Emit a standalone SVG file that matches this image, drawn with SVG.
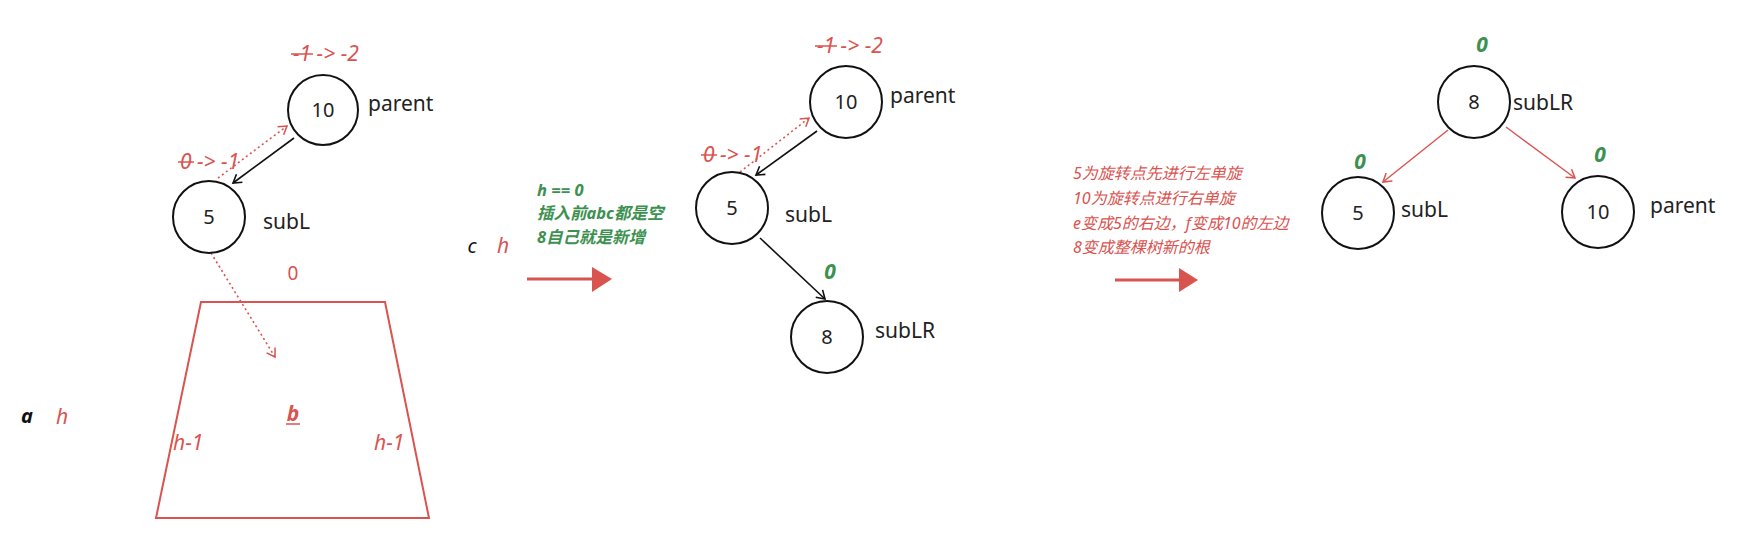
<svg xmlns="http://www.w3.org/2000/svg" width="1743" height="553" viewBox="0 0 1743 553">
<style>
.node{fill:#fff;stroke:#111;stroke-width:2}
.val{font-family:"Noto Sans","Liberation Sans",sans-serif;font-size:20px;fill:#222;text-anchor:middle}
.lbl{font-family:"Noto Sans","Liberation Sans",sans-serif;font-size:21px;fill:#222}
.red{font-family:"Noto Sans","Liberation Sans",sans-serif;font-style:italic;font-size:21px;fill:#d9534f}
.grn{font-family:"Noto Sans","Liberation Sans","Noto Sans CJK SC",sans-serif;font-style:italic;font-weight:bold;font-size:16.5px;fill:#3d9150}
.g0{font-family:"Noto Sans","Liberation Sans",sans-serif;font-style:italic;font-weight:bold;font-size:21px;fill:#3d9150;text-anchor:middle}
.cn{font-family:"Noto Sans","Noto Sans CJK SC",sans-serif;font-style:italic;font-size:16px;fill:#d9534f}
.blk{stroke:#111;stroke-width:1.6;fill:none}
.rdot{stroke:#d9534f;stroke-width:1.6;fill:none;stroke-dasharray:2 3}
.rsol{stroke:#d9534f;stroke-width:1.4;fill:none}
.strike{stroke:#d9534f;stroke-width:1.5}
</style>
<defs>
<marker id="ab" markerWidth="12" markerHeight="12" refX="9" refY="6" orient="auto" markerUnits="userSpaceOnUse"><path d="M1,1 L9,6 L1,11" fill="none" stroke="#111" stroke-width="1.6"/></marker>
<marker id="ar" markerWidth="12" markerHeight="12" refX="9" refY="6" orient="auto" markerUnits="userSpaceOnUse"><path d="M1,1 L9,6 L1,11" fill="none" stroke="#d9534f" stroke-width="1.5"/></marker>
</defs>

<g id="connectors">
  <line class="blk" x1="294" y1="138" x2="233" y2="183" marker-end="url(#ab)"/>
  <line class="rdot" x1="218" y1="178" x2="287" y2="126" marker-end="url(#ar)"/>
  <line class="rdot" x1="211" y1="253" x2="275" y2="357" marker-end="url(#ar)"/>
  <line class="blk" x1="817" y1="131" x2="756" y2="175" marker-end="url(#ab)"/>
  <line class="rdot" x1="740" y1="172" x2="809" y2="118" marker-end="url(#ar)"/>
  <line class="blk" x1="760" y1="238" x2="825" y2="299" marker-end="url(#ab)"/>
  <line class="rsol" x1="1448" y1="130" x2="1383" y2="182" marker-end="url(#ar)"/>
  <line class="rsol" x1="1506" y1="127" x2="1575" y2="178" marker-end="url(#ar)"/>
</g>

<g id="left-tree">
  <g id="L-n10"><circle class="node" cx="323" cy="110" r="35"/><text class="val" x="323" y="117">10</text><text class="lbl" x="368" y="111">parent</text></g>
  <g id="L-bf10"><text class="red" x="293" y="61">-1 -&gt; -2</text><line class="strike" x1="291" y1="54" x2="313" y2="54"/></g>
  <g id="L-n5"><circle class="node" cx="209" cy="217" r="36"/><text class="val" x="209" y="224">5</text><text class="lbl" x="263" y="229">subL</text></g>
  <g id="L-bf5"><text class="red" x="180" y="169">0 -&gt; -1</text><line class="strike" x1="178" y1="162" x2="194" y2="162"/></g>
  <g id="L-tree-b">
    <polygon points="201,302 385,302 429,518 156,518" fill="none" stroke="#d9534f" stroke-width="2"/>
    <text class="red" x="293" y="280" style="font-style:normal;font-size:19px" text-anchor="middle">0</text>
    <text class="red" x="293" y="421" text-anchor="middle" style="font-weight:bold">b</text>
    <line x1="286" y1="424" x2="300" y2="424" stroke="#d9534f" stroke-width="1.5"/>
    <text class="red" x="173" y="450">h-1</text>
    <text class="red" x="374" y="450">h-1</text>
  </g>
  <g id="L-tree-a">
    <text x="27" y="423" text-anchor="middle" style="font-family:'Noto Sans',sans-serif;font-style:italic;font-weight:bold;font-size:20px;fill:#111">a</text>
    <text class="red" x="62" y="424" text-anchor="middle">h</text>
  </g>
  <g id="L-tree-c">
    <text x="472" y="253" text-anchor="middle" style="font-family:'Noto Sans',sans-serif;font-style:italic;font-size:20px;fill:#111">c</text>
    <text class="red" x="503" y="253" text-anchor="middle">h</text>
  </g>
</g>

<g id="note1">
  <text class="grn" x="537" y="196">h == 0</text>
  <text class="grn" x="537" y="219">插入前abc都是空</text>
  <text class="grn" x="537" y="243">8自己就是新增</text>
</g>
<g id="arrow1">
  <line x1="527" y1="279" x2="594" y2="279" stroke="#d9534f" stroke-width="3"/>
  <polygon points="592,267 612,279 592,292" fill="#d9534f"/>
</g>

<g id="mid-tree">
  <g id="M-n10"><circle class="node" cx="846" cy="102" r="36"/><text class="val" x="846" y="109">10</text><text class="lbl" x="890" y="103">parent</text></g>
  <g id="M-bf10"><text class="red" x="817" y="53">-1 -&gt; -2</text><line class="strike" x1="815" y1="46" x2="837" y2="46"/></g>
  <g id="M-n5"><circle class="node" cx="732" cy="208" r="36"/><text class="val" x="732" y="215">5</text><text class="lbl" x="785" y="222">subL</text></g>
  <g id="M-bf5"><text class="red" x="703" y="162">0 -&gt; -1</text><line class="strike" x1="701" y1="155" x2="717" y2="155"/></g>
  <g id="M-n8"><circle class="node" cx="827" cy="337" r="36"/><text class="val" x="827" y="344">8</text><text class="lbl" x="875" y="338">subLR</text><text class="g0" x="830" y="279">0</text></g>
</g>

<g id="note2">
  <text class="cn" x="1073" y="179">5为旋转点先进行左单旋</text>
  <text class="cn" x="1073" y="204">10为旋转点进行右单旋</text>
  <text class="cn" x="1073" y="229">e变成5的右边，f变成10的左边</text>
  <text class="cn" x="1073" y="253">8变成整棵树新的根</text>
</g>
<g id="arrow2">
  <line x1="1115" y1="280" x2="1181" y2="280" stroke="#d9534f" stroke-width="3"/>
  <polygon points="1179,268 1198,280 1179,292" fill="#d9534f"/>
</g>

<g id="right-tree">
  <g id="R-n8"><circle class="node" cx="1474" cy="102" r="36"/><text class="val" x="1474" y="109">8</text><text class="lbl" x="1513" y="110">subLR</text><text class="g0" x="1482" y="52">0</text></g>
  <g id="R-n5"><circle class="node" cx="1358" cy="213" r="36"/><text class="val" x="1358" y="220">5</text><text class="lbl" x="1401" y="217">subL</text><text class="g0" x="1360" y="169">0</text></g>
  <g id="R-n10"><circle class="node" cx="1598" cy="212" r="36"/><text class="val" x="1598" y="219">10</text><text class="lbl" x="1650" y="213">parent</text><text class="g0" x="1600" y="162">0</text></g>
</g>
</svg>
